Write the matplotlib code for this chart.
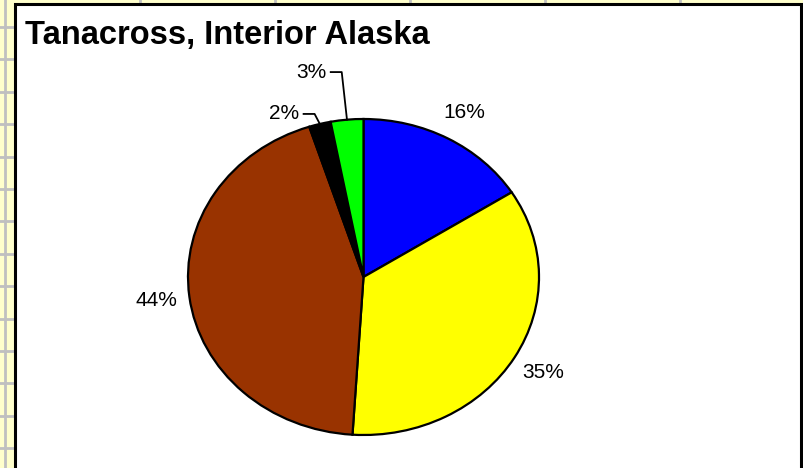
import matplotlib.pyplot as plt
import numpy as np
from matplotlib.patches import Rectangle

# language share, Tanacross
labels = ["16%", "35%", "44%", "2%", "3%"]
shares = [16, 35, 44, 2, 3]
colors = ["#0000FF", "#FFFF00", "#993300", "#000000", "#00FF00"]

plt.rcParams['font.family'] = ['Liberation Sans', 'DejaVu Sans']

W, H = 804, 468
fig = plt.figure(figsize=(W / 100, H / 100), dpi=100, facecolor="#FFFFCC")

# worksheet cells behind the chart
bg = fig.add_axes([0, 0, 1, 1])
bg.set_xlim(0, W)
bg.set_ylim(H, 0)
bg.axis("off")
for y in np.arange(27, H, 32.4):
    bg.axhline(y, color="#C0C0C0", lw=2, zorder=1)
for x in [5, 140, 275, 410, 545, 680]:
    bg.axvline(x, color="#C0C0C0", lw=2, zorder=1)
bg.add_patch(Rectangle((15.5, 3.5), 786, H, facecolor="white",
                       edgecolor="black", lw=2.2, zorder=3))
bg.text(25, 44, "Tanacross, Interior Alaska", fontsize=23.5, fontweight="bold",
        ha="left", va="baseline", zorder=4)

# pie, slightly stretched sideways
cx, cy, rx, ry = 363.5, 277, 175.5, 158
ax = fig.add_axes([(cx - rx) / W, (H - cy - ry) / H, 2 * rx / W, 2 * ry / H])
wedges, _ = ax.pie(shares, colors=colors, startangle=90, counterclock=False,
                   wedgeprops=dict(edgecolor="black", linewidth=1.6))
ax.set_aspect("auto")
ax.set_xlim(-1, 1)
ax.set_ylim(-1, 1)
for w in wedges:
    w.set_clip_on(False)

for w, lab, val in zip(wedges, labels, shares):
    mid = np.deg2rad((w.theta1 + w.theta2) / 2)
    ex, ey = np.cos(mid), np.sin(mid)
    if val >= 10:
        r = 1.19
        ax.text(r * ex, r * ey, lab, fontsize=15, ha="center", va="center")
    else:
        # leader line: short horizontal run from the label, then to the edge
        ky = 1.297 if val == 3 else 1.032
        kx = ex - 0.03
        hx = kx - 11 / rx
        ax.plot([hx, kx, ex], [ky, ky, ey], color="black", lw=1.3,
                clip_on=False)
        ax.text(hx - 4 / rx, ky, lab, fontsize=15, ha="right", va="center")

fig.savefig("out.png", dpi=100, facecolor=fig.get_facecolor())
